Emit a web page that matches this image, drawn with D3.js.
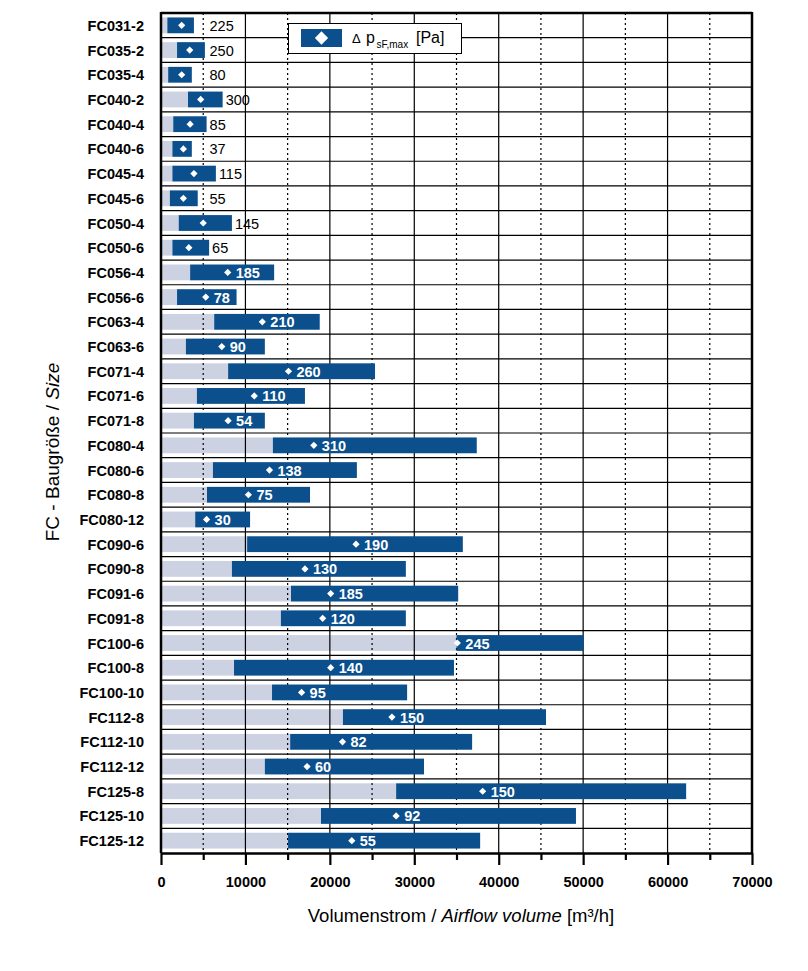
<!DOCTYPE html>
<html>
<head>
<meta charset="utf-8">
<script src="https://cdn.jsdelivr.net/npm/d3@7"></script>
<style>
  html, body { margin: 0; padding: 0; background: #fff; }
  svg { display: block; font-family: "Liberation Sans", Arial, sans-serif; }
</style>
</head>
<body>
<svg id="chart" width="808" height="971"></svg>
<script>
// ---- data ----
const categories = ["FC031-2","FC035-2","FC035-4","FC040-2","FC040-4","FC040-6","FC045-4","FC045-6","FC050-4","FC050-6",
  "FC056-4","FC056-6","FC063-4","FC063-6","FC071-4","FC071-6","FC071-8","FC080-4","FC080-6","FC080-8","FC080-12",
  "FC090-6","FC090-8","FC091-6","FC091-8","FC100-6","FC100-8","FC100-10","FC112-8","FC112-10","FC112-12",
  "FC125-8","FC125-10","FC125-12"];
// airflow range start (min) [m³/h]
const flowMin = [750,1900,850,3200,1450,1350,1350,1050,2100,1350,
  3450,1900,6300,2950,7950,4250,3900,13250,6150,5450,4050,
  10200,8400,15400,14200,35000,8650,13150,21550,15300,12300,
  27850,18950,15050];
// airflow range end (max) [m³/h]
const flowMax = [3900,5200,3650,7300,5400,3650,6500,4350,8400,5700,
  13400,8950,18800,12300,25350,17050,12300,37400,23200,17650,10550,
  35750,29000,35200,29000,50050,34700,29150,45600,36850,31150,
  62200,49150,37800];
// airflow at max static pressure point [m³/h]
const flowAtPmax = [2450,3400,2450,4700,3450,2650,3900,2650,5000,3300,
  7900,5300,12000,7200,15100,11050,7950,18100,12850,10350,5400,
  23100,17050,20100,19150,35100,20100,16650,27350,21500,17300,
  38100,27850,22600];
// Δ p sF,max [Pa]
const pMax = [225,250,80,300,85,37,115,55,145,65,
  185,78,210,90,260,110,54,310,138,75,30,
  190,130,185,120,245,140,95,150,82,60,
  150,92,55];
// whether the pressure label sits inside the bar
const labelInside = [false,false,false,false,false,false,false,false,false,false,
  true,true,true,true,true,true,true,true,true,true,true,
  true,true,true,true,true,true,true,true,true,true,
  true,true,true];
const majorTicks = [0,10000,20000,30000,40000,50000,60000,70000];
const minorTicks = [5000,15000,25000,35000,45000,55000,65000];

const rows = categories.map((c,i) => ({cat:c, min:flowMin[i], max:flowMax[i], pt:flowAtPmax[i], p:pMax[i], inside:labelInside[i]}));

// ---- layout ----
const L = 161, R = 752, T = 13, B = 853;
const DARK = "#0b4f8d", LIGHT = "#cdd2e3";
const svg = d3.select("#chart");
svg.append("rect").attr("width",808).attr("height",971).attr("fill","#fff");

const x = d3.scaleLinear().domain([0,70000]).range([L,R]);
const y = d3.scaleBand().domain(categories).range([T,B]).paddingInner(0.36).paddingOuter(0.18);
const step = y.step();

// light bars (behind grid)
svg.append("g").selectAll("rect").data(rows).join("rect")
  .attr("x", x(0)).attr("y", d => y(d.cat))
  .attr("width", d => x(d.min) - x(0)).attr("height", y.bandwidth())
  .attr("fill", LIGHT);

// grid
const grid = svg.append("g");
grid.selectAll("line.maj").data(majorTicks.slice(1,-1)).join("line")
  .attr("x1", d => x(d)).attr("x2", d => x(d)).attr("y1", T).attr("y2", B)
  .attr("stroke","#000").attr("stroke-width",1.2);
grid.selectAll("line.min").data(minorTicks).join("line")
  .attr("x1", d => x(d)).attr("x2", d => x(d)).attr("y1", T).attr("y2", B)
  .attr("stroke","#000").attr("stroke-width",1.2).attr("stroke-dasharray","2,3");
grid.selectAll("line.h").data(d3.range(1, categories.length)).join("line")
  .attr("x1", L).attr("x2", R).attr("y1", i => T + i*step).attr("y2", i => T + i*step)
  .attr("stroke","#000").attr("stroke-width",1.2);

// dark bars
svg.append("g").selectAll("rect").data(rows).join("rect")
  .attr("x", d => x(d.min)).attr("y", d => y(d.cat))
  .attr("width", d => x(d.max) - x(d.min)).attr("height", y.bandwidth())
  .attr("fill", DARK);

// diamonds
const diamond = d3.symbol(d3.symbolSquare, 26);
svg.append("g").selectAll("path").data(rows).join("path")
  .attr("d", diamond)
  .attr("transform", d => `translate(${x(d.pt)},${y(d.cat)+y.bandwidth()/2}) rotate(45)`)
  .attr("fill","#fff");

// value labels
svg.append("g").selectAll("text").data(rows).join("text")
  .attr("x", d => d.inside ? x(d.pt) + 8 : Math.max(x(d.max) + 3, x(5750)))
  .attr("y", d => y(d.cat) + y.bandwidth()/2 + 5.5)
  .attr("font-size", 14.5)
  .attr("font-weight", d => d.inside ? "bold" : "normal")
  .attr("fill", d => d.inside ? "#fff" : "#000")
  .text(d => d.p);

// category labels
svg.append("g").selectAll("text").data(rows).join("text")
  .attr("x", 144).attr("y", d => y(d.cat) + y.bandwidth()/2 + 5.5)
  .attr("text-anchor","end").attr("font-size",14.5).attr("font-weight","bold")
  .text(d => d.cat);

// frame
const frame = svg.append("g").attr("stroke","#000").attr("stroke-width",2.5).attr("fill","none");
frame.append("line").attr("x1",L).attr("x2",L).attr("y1",T-1).attr("y2",B);
frame.append("line").attr("x1",R).attr("x2",R).attr("y1",T-1).attr("y2",B);
frame.append("line").attr("x1",L).attr("x2",R).attr("y1",T).attr("y2",T);

// x axis
const ax = svg.append("g").attr("transform",`translate(0,${B})`)
  .call(d3.axisBottom(x).tickValues(majorTicks).tickSize(12).tickSizeOuter(0).tickPadding(12).tickFormat(d3.format("d")));
ax.select(".domain").attr("stroke-width",2.5);
ax.selectAll(".tick line").attr("stroke-width",2.2);
ax.selectAll(".tick text").attr("font-size",14.5).attr("font-weight","bold")
  .attr("font-family","'Liberation Sans', Arial, sans-serif").attr("fill","#000");
const axm = svg.append("g").attr("transform",`translate(0,${B})`)
  .call(d3.axisBottom(x).tickValues(minorTicks).tickSize(7).tickFormat(""));
axm.select(".domain").remove();
axm.selectAll(".tick line").attr("stroke-width",2.2);

// axis titles
const xt = svg.append("text").attr("x",461).attr("y",922).attr("text-anchor","middle").attr("font-size",18.5);
xt.append("tspan").text("Volumenstrom / ");
xt.append("tspan").attr("font-style","italic").text("Airflow volume");
xt.append("tspan").text(" [m³/h]");

const yt = svg.append("text").attr("transform","translate(59,452) rotate(-90)").attr("text-anchor","middle").attr("font-size",19);
yt.append("tspan").text("FC - Baugröße / ");
yt.append("tspan").attr("font-style","italic").text("Size");

// legend
const lg = svg.append("g");
lg.append("rect").attr("x",288.5).attr("y",23.5).attr("width",173).attr("height",30)
  .attr("fill","#fff").attr("stroke","#000").attr("stroke-width",1);
lg.append("rect").attr("x",301).attr("y",29).attr("width",41).attr("height",18).attr("fill",DARK);
lg.append("path").attr("d", d3.symbol(d3.symbolSquare, 88)).attr("transform","translate(321.5,38) rotate(45)").attr("fill","#fff");
lg.append("text").attr("x",352).attr("y",43).attr("font-size",13).text("Δ");
lg.append("text").attr("x",366).attr("y",43).attr("font-size",16).text("p");
lg.append("text").attr("x",376.5).attr("y",48).attr("font-size",10).text("sF,max");
lg.append("text").attr("x",416).attr("y",43).attr("font-size",16).text("[Pa]");
</script>
</body>
</html>
